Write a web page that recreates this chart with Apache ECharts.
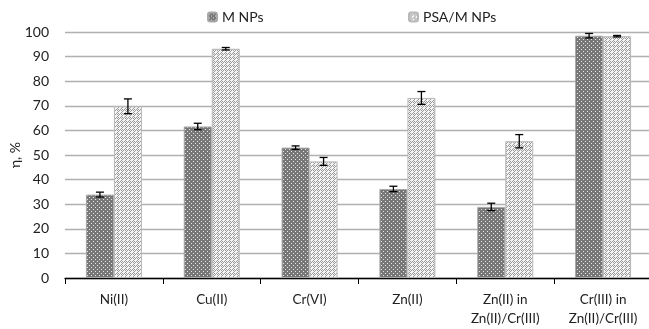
<!DOCTYPE html>
<html><head><meta charset="utf-8">
<script src="https://cdn.jsdelivr.net/npm/echarts@6/dist/echarts.min.js"></script>
<style>html,body{margin:0;padding:0;background:#fff}#c{width:649px;height:329px}</style>
</head><body><div id="c"></div>
<script>
const categories = ['Ni(II)', 'Cu(II)', 'Cr(VI)', 'Zn(II)', 'Zn(II) in\nZn(II)/Cr(III)', 'Cr(III) in\nZn(II)/Cr(III)'];
const mValues = [33.9, 61.6, 53.0, 36.2, 28.9, 98.5];
const mErrors = [1.0, 1.3, 0.7, 1.1, 1.5, 0.9];
const psaValues = [69.8, 93.2, 47.4, 73.2, 55.6, 98.3];
const psaErrors = [3.0, 0.5, 1.6, 2.6, 2.7, 0.3];
const yTicks = [0, 10, 20, 30, 40, 50, 60, 70, 80, 90, 100];

function makePattern(bg, fg, pts, size) {
  const c = document.createElement('canvas');
  c.width = size; c.height = size;
  const g = c.getContext('2d');
  g.fillStyle = bg; g.fillRect(0, 0, size, size);
  g.fillStyle = fg;
  pts.forEach(p => g.fillRect(p[0], p[1], 1, 1));
  return { image: c, repeat: 'repeat' };
}
const mPattern = makePattern('#777777', '#e6e6e6', [[1,1],[3,3]], 4);
const psaPattern = makePattern('#f4f4f4', '#9a9a9a', [[1,0],[0,1],[2,1],[1,2],[3,2],[2,3]], 4);

const FONT = 'Lato';
const chart = echarts.init(document.getElementById('c'), null, { renderer: 'canvas' });

function errRender(values, errors, offset) {
  return function (params, api) {
    const i = api.value(0);
    const v = values[i], e = errors[i];
    const hi = api.coord([i, v + e]);
    const lo = api.coord([i, v - e]);
    const x = hi[0] + offset;
    const cap = 4;
    const st = { stroke: '#000', lineWidth: 1.3 };
    return { type: 'group', children: [
      { type: 'line', shape: { x1: x, y1: hi[1], x2: x, y2: lo[1] }, style: st },
      { type: 'line', shape: { x1: x - cap, y1: hi[1], x2: x + cap, y2: hi[1] }, style: st },
      { type: 'line', shape: { x1: x - cap, y1: lo[1], x2: x + cap, y2: lo[1] }, style: st }
    ]};
  };
}

chart.setOption({
  animation: false,
  textStyle: { fontFamily: FONT },
  grid: { left: 65, right: -3, top: 32, bottom: 51, containLabel: false, outerBoundsMode: 'none' },
  legend: [
    { data: ['M NPs'], left: 202, top: 5, itemWidth: 9, itemHeight: 9, itemGap: 5,
      textStyle: { fontFamily: FONT, fontSize: 14, color: '#222' } },
    { data: ['PSA/M NPs'], left: 403, top: 5, itemWidth: 9, itemHeight: 9, itemGap: 5,
      textStyle: { fontFamily: FONT, fontSize: 14, color: '#222' } }
  ],
  xAxis: {
    type: 'category', data: categories,
    axisLine: { lineStyle: { color: '#000', width: 1.3 } },
    axisTick: { show: true, length: 6, lineStyle: { color: '#000' } },
    axisLabel: { fontFamily: FONT, fontSize: 13.5, color: '#222', margin: 12, lineHeight: 19, hideOverlap: false }
  },
  yAxis: {
    type: 'value', min: 0, max: 100, interval: 10,
    name: 'η, %', nameLocation: 'middle', nameGap: 43, nameRotate: 90, nameMoveOverlap: false,
    nameTextStyle: { fontFamily: FONT, fontSize: 14, color: '#222' },
    axisLine: { show: false }, axisTick: { show: false },
    axisLabel: { fontFamily: FONT, fontSize: 14, color: '#222', margin: 16,
      formatter: v => yTicks.includes(v) ? String(v) : '' },
    splitLine: { lineStyle: { color: '#b0b0b0', width: 1.3 } }
  },
  series: [
    { name: 'M NPs', type: 'bar', data: mValues, barWidth: 28, barGap: '0%',
      itemStyle: { color: mPattern, borderColor: '#a8a8a8', borderWidth: 1 } },
    { name: 'PSA/M NPs', type: 'bar', data: psaValues, barWidth: 28,
      itemStyle: { color: psaPattern, borderColor: '#b8b8b8', borderWidth: 1 } },
    { type: 'custom', name: 'errM', renderItem: errRender(mValues, mErrors, -14),
      data: mValues.map((v, i) => [i, v]), z: 10 },
    { type: 'custom', name: 'errP', renderItem: errRender(psaValues, psaErrors, 14),
      data: psaValues.map((v, i) => [i, v]), z: 10 }
  ]
});
</script></body></html>
